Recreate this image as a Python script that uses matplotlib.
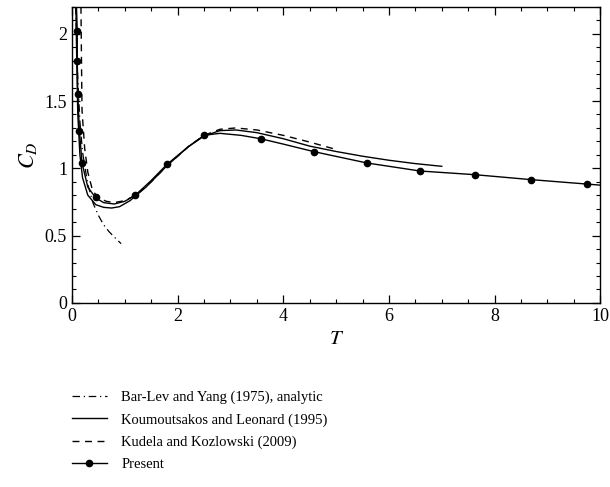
import numpy as np
import matplotlib.pyplot as plt
from matplotlib.ticker import MultipleLocator

# Bar-Lev and Yang (1975), analytic
t_barlev = [0.07, 0.1, 0.15, 0.2, 0.3, 0.4, 0.5, 0.6, 0.7, 0.8, 0.93]
cd_barlev = [2.2, 1.75, 1.35, 1.12, 0.88, 0.74, 0.65, 0.58, 0.53, 0.49, 0.44]

# Koumoutsakos and Leonard (1995)
t_koum = [0.075, 0.09, 0.11, 0.15, 0.2, 0.3, 0.45, 0.6, 0.75, 0.9, 1.1, 1.4, 1.8,
          2.2, 2.5, 2.8, 3.1, 3.5, 4.0, 4.5, 5.0, 5.5, 6.0, 6.5, 7.0]
cd_koum = [2.2, 1.8, 1.4, 1.1, 0.93, 0.8, 0.73, 0.71, 0.705, 0.715, 0.76, 0.86, 1.02,
           1.16, 1.24, 1.28, 1.285, 1.265, 1.22, 1.165, 1.125, 1.09, 1.06, 1.035, 1.015]

# Kudela and Kozlowski (2009)
t_kud = [0.17, 0.18, 0.19, 0.24, 0.3, 0.39, 0.5, 0.65, 0.8, 1.0, 1.2, 1.5, 1.8,
         2.2, 2.5, 2.8, 3.1, 3.5, 4.0, 4.5, 5.0]
cd_kud = [2.2, 1.8, 1.43, 1.15, 0.97, 0.835, 0.78, 0.755, 0.745, 0.76, 0.8, 0.9, 1.02,
          1.16, 1.245, 1.29, 1.30, 1.285, 1.245, 1.195, 1.14]

# Present (line)
t_pres = [0.085, 0.1, 0.1, 0.11, 0.14, 0.19, 0.3, 0.45, 0.6, 0.8, 1.0, 1.2, 1.5, 1.8,
          2.2, 2.5, 2.8, 3.2, 3.57, 4.0, 4.58, 5.58, 6.59, 7.62, 8.69, 9.75, 10.0]
cd_pres = [2.2, 2.02, 1.80, 1.55, 1.28, 1.04, 0.86, 0.78, 0.745, 0.735, 0.755, 0.80, 0.91, 1.03,
           1.16, 1.245, 1.26, 1.245, 1.22, 1.18, 1.124, 1.04, 0.98, 0.953, 0.916, 0.883, 0.875]

# Present (markers)
t_dots = [0.1, 0.1, 0.11, 0.14, 0.19, 0.45, 1.2, 1.8, 2.5, 3.57, 4.58, 5.58, 6.59, 7.62, 8.69, 9.75]
cd_dots = [2.02, 1.80, 1.55, 1.28, 1.04, 0.79, 0.80, 1.03, 1.245, 1.22, 1.124, 1.04, 0.98, 0.953, 0.916, 0.883]

plt.rcParams['font.family'] = ['Liberation Serif', 'DejaVu Serif']
plt.rcParams['mathtext.fontset'] = 'stix'

fig = plt.figure(figsize=(6.1, 4.87), dpi=100)
ax = fig.add_axes([0.118, 0.378, 0.866, 0.608])

ax.plot(t_barlev, cd_barlev, color='black', lw=0.9, ls=(0, (6, 3, 1, 3)),
        label='Bar-Lev and Yang (1975), analytic')
ax.plot(t_koum, cd_koum, color='black', lw=1.0, label='Koumoutsakos and Leonard (1995)')
ax.plot(t_kud, cd_kud, color='black', lw=1.0, ls=(0, (5, 4)), label='Kudela and Kozlowski (2009)')
ax.plot(t_pres, cd_pres, color='black', lw=1.0)
ax.plot(t_dots, cd_dots, 'o', color='black', ms=4.5)
# legend handle for present
ax.plot([], [], '-o', color='black', lw=1.0, ms=4.5, label='Present')

ax.set_xlim(0, 10)
ax.set_ylim(0, 2.2)
ax.xaxis.set_major_locator(MultipleLocator(2))
ax.xaxis.set_minor_locator(MultipleLocator(0.5))
ax.yaxis.set_major_locator(MultipleLocator(0.5))
ax.yaxis.set_minor_locator(MultipleLocator(0.1))
ax.set_yticks([0, 0.5, 1, 1.5, 2])
ax.set_yticklabels(['0', '0.5', '1', '1.5', '2'])
ax.tick_params(which='both', direction='in', top=True, right=True, labelsize=13)
ax.tick_params(which='major', length=6, width=0.9)
ax.tick_params(which='minor', length=3, width=0.8)
for s in ax.spines.values():
    s.set_linewidth(1.0)

ax.set_xlabel('$T$', fontsize=15, labelpad=4)
ax.set_ylabel('$C_D$', fontsize=16, labelpad=4)

h, l = ax.get_legend_handles_labels()
fig.legend(h, l, loc='upper left', bbox_to_anchor=(0.108, 0.21), frameon=False,
           fontsize=10.5, handlelength=2.4, handletextpad=1.0, labelspacing=0.62,
           borderaxespad=0)

fig.savefig('out.png', dpi=100)
